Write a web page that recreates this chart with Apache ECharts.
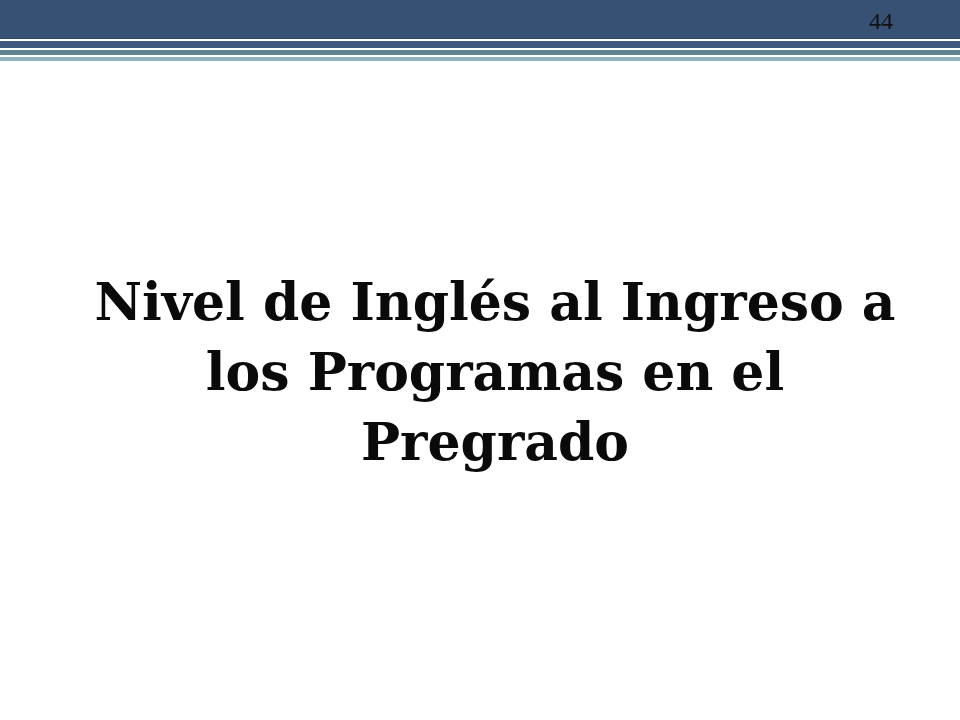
<!DOCTYPE html>
<html>
<head>
<meta charset="utf-8">
<script src="https://cdn.jsdelivr.net/npm/echarts@6/dist/echarts.min.js"></script>
<style>
html,body{margin:0;padding:0;background:#fff;}
#chart{width:960px;height:720px;}
</style>
</head>
<body>
<div id="chart"></div>
<script>
const titleLines = ['Nivel de Inglés al Ingreso a', 'los Programas en el', 'Pregrado'];
const pageNumber = '44';

const chart = echarts.init(document.getElementById('chart'));
const stripes = [
  {y: 0, h: 38, c: '#375175'},
  {y: 38, h: 1, c: '#2c4361'},
  {y: 41, h: 7, c: '#3f5a7e'},
  {y: 50, h: 5, c: '#5d8191'},
  {y: 57, h: 4, c: '#8fb1bd'}
];
const graphics = stripes.map(s => ({
  type: 'rect', shape: {x: 0, y: s.y, width: 960, height: s.h}, style: {fill: s.c}, silent: true
}));
graphics.push({
  type: 'text', x: 881, y: 23,
  style: {text: pageNumber, fill: '#111', font: '24px "Liberation Serif", serif', textAlign: 'center', textVerticalAlign: 'middle'}
});
chart.setOption({
  animation: false,
  title: {
    text: titleLines.join('\n'),
    left: 490, top: 266,
    textAlign: 'center',
    textStyle: {
      fontFamily: '"DejaVu Serif", serif',
      fontWeight: 'bold',
      fontSize: 52,
      lineHeight: 70,
      color: '#0a0a0a'
    }
  },
  graphic: graphics
});
</script>
</body>
</html>
